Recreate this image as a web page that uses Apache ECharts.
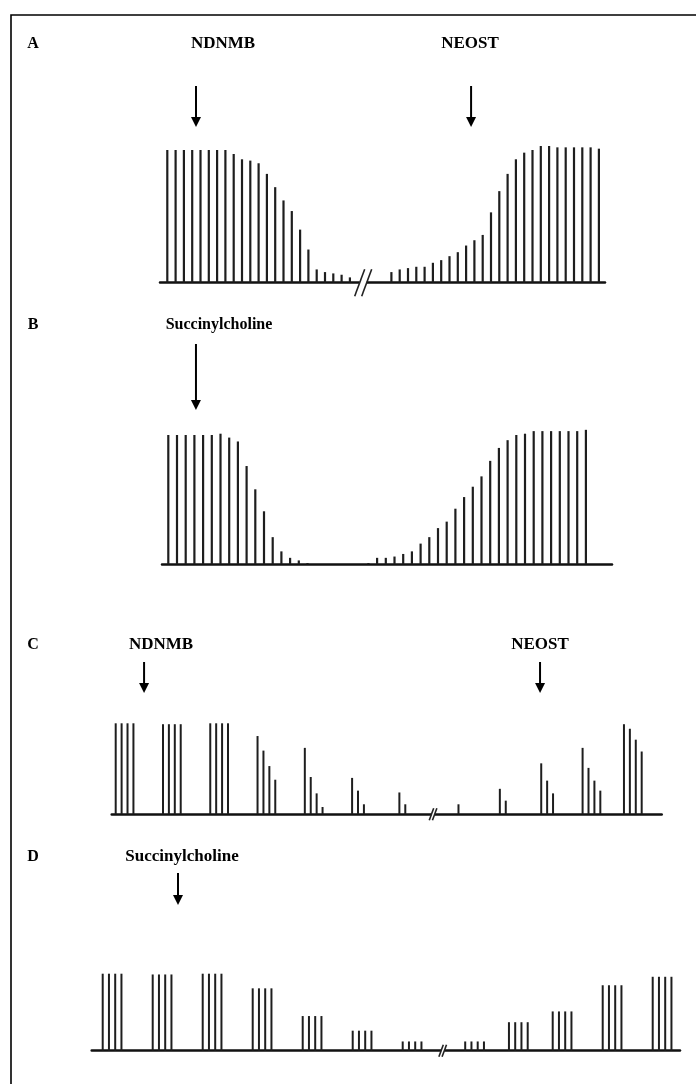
<!DOCTYPE html>
<html><head><meta charset="utf-8">
<script src="https://cdn.jsdelivr.net/npm/echarts@6/dist/echarts.min.js"></script>
<style>html,body{margin:0;padding:0;background:#fff}#c{width:696px;height:1084px}</style>
</head><body><div id="c"></div>
<script>
// ---------- DATA (twitch height, % of control) ----------
// A: single twitch, NDNMB then NEOST (break in record)
const A_before = [100,100,100,100,100,100,100,100,97,93,92,90,82,72,62,54,40,25,10,8,7,6,4];
const A_after  = [8,10,11,12,12,15,17,20,23,28,32,36,53,69,82,93,98,100,103,103,102,102,102,102,102,101];
const A_gapSlots = 4;              // stimuli omitted at the break
const A_breakAt = 23.6;            // stimulus index of the break mark
const A_events = [{name:'NDNMB', at:3.46}, {name:'NEOST', at:36.6}];

// B: single twitch, succinylcholine
const B_twitch = [100,100,100,100,100,100,101,98,95,76,58,41,21,10,5,3,1,
                  0,0,0,0,0,0,
                  1,5,5,6,8,10,16,21,28,33,43,52,60,68,80,90,96,100,101,103,103,103,103,103,103,104];
const B_events = [{name:'Succinylcholine', at:3.18}];

// C: train-of-four, NDNMB then NEOST
const C_trains = [[100,100,100,100],[99,99,99,99],[100,100,100,100],[86,70,53,38],[73,41,23,8],
                  [40,26,11,0],[24,11,0,0],[11,0,0,0],[28,15,0,0],[56,37,23,0],[73,51,37,26],[99,94,82,69]];
const C_trainStart = [0,8,16,24,32,40,48,58,65,72,79,86];
const C_breakAt = 53.7;
const C_events = [{name:'NDNMB', at:4.8}, {name:'NEOST', at:71.8}];

// D: train-of-four, succinylcholine
const D_trains = [[100,100,100,100],[99,99,99,99],[100,100,100,100],[81,81,81,81],[45,45,45,45],
                  [26,26,26,26],[12,12,12,12],[12,12,12,12],[37,37,37,37],[51,51,51,51],[85,85,85,85],[96,96,96,96]];
const D_trainStart = [0,8,16,24,32,40,48,58,65,72,80,88];
const D_breakAt = 54.4;
const D_events = [{name:'Succinylcholine', at:12.05}];

const panelLetters = ['A','B','C','D'];

// ---------- LAYOUT ----------
const YMAX = 110;
const layout = [
  {x0:160,   x1:605,   slot0:167.3, slotW:8.3,  base:282.7,  px100:132.7, letterY:44,  textY:44,  arrowTop:86,  arrowBot:127, breakH:13.5, breakOff:3.5},
  {x0:162,   x1:612,   slot0:168.3, slotW:8.7,  base:564.3,  px100:129.3, letterY:325, textY:325, arrowTop:344, arrowBot:410},
  {x0:111.7, x1:661.7, slot0:115.7, slotW:5.91, base:814.3,  px100:91,    letterY:645, textY:645, arrowTop:662, arrowBot:693, breakH:6, breakOff:1.6},
  {x0:91.7,  x1:680,   slot0:102.7, slotW:6.25, base:1050.7, px100:77,    letterY:857, textY:857, arrowTop:873, arrowBot:905, breakH:6, breakOff:1.6}
];
// label text placement (centre x) and size
const textStyle = [
  [{cx:223, size:17}, {cx:470, size:17}],
  [{cx:219, size:16}],
  [{cx:161, size:17}, {cx:540, size:17}],
  [{cx:182, size:17}]
];

function trainsToData(trains, starts) {
  const out = [];
  trains.forEach((t, k) => t.forEach((v, j) => { if (v > 0) out.push([starts[k] + j, v]); }));
  return out;
}
const dataA = A_before.map((v, i) => [i, v])
  .concat(A_after.map((v, i) => [A_before.length + A_gapSlots + i, v]));
const dataB = B_twitch.map((v, i) => [i, v]).filter(d => d[1] > 0);
const dataC = trainsToData(C_trains, C_trainStart);
const dataD = trainsToData(D_trains, D_trainStart);
const allData = [dataA, dataB, dataC, dataD];
const events = [A_events, B_events, C_events, D_events];
const breaks = [A_breakAt, null, C_breakAt, D_breakAt];

const chart = echarts.init(document.getElementById('c'), null, {renderer:'canvas'});
const option = {
  animation: false,
  backgroundColor: '#fff',
  grid: layout.map(L => ({
    left: L.x0, width: L.x1 - L.x0,
    top: L.base - L.px100 * YMAX / 100, height: L.px100 * YMAX / 100,
    outerBoundsMode: 'none', containLabel: false
  })),
  xAxis: layout.map((L, i) => ({
    type: 'value', gridIndex: i,
    min: (L.x0 - L.slot0) / L.slotW, max: (L.x1 - L.slot0) / L.slotW,
    axisLine: {show: true, onZero: false, lineStyle: {color: '#111', width: 2.5}},
    axisTick: {show: false}, axisLabel: {show: false}, splitLine: {show: false}
  })),
  yAxis: layout.map((L, i) => ({
    type: 'value', gridIndex: i, min: 0, max: YMAX, show: false, splitLine: {show: false}
  })),
  series: allData.map((d, i) => ({
    type: 'bar', xAxisIndex: i, yAxisIndex: i, data: d,
    barWidth: i < 2 ? 2.2 : 2, clip: false, silent: true,
    itemStyle: {color: '#1e1e1e'}
  }))
};
chart.setOption(option);

// ---------- annotations ----------
const g = [];
g.push({type:'rect', shape:{x:11, y:15, width:720, height:1100},
        style:{fill:'none', stroke:'#000', lineWidth:1.6}, z:10});
const font = (s) => 'bold ' + s + 'px "Liberation Serif", "Times New Roman", serif';
layout.forEach((L, i) => {
  g.push({type:'text', z:10, style:{text: panelLetters[i], x: 33, y: L.letterY, font: font(16),
          fill:'#000', align:'center', verticalAlign:'middle', textAlign:'center', textVerticalAlign:'middle'}});
  events[i].forEach((ev, k) => {
    const px = chart.convertToPixel({gridIndex: i}, [ev.at, 0])[0];
    const ts = textStyle[i][k];
    g.push({type:'text', z:10, style:{text: ev.name, x: ts.cx, y: L.textY, font: font(ts.size),
            fill:'#000', align:'center', verticalAlign:'middle', textAlign:'center', textVerticalAlign:'middle'}});
    g.push({type:'line', z:10, shape:{x1:px, y1:L.arrowTop, x2:px, y2:L.arrowBot - 6},
            style:{stroke:'#000', lineWidth:2}});
    g.push({type:'polygon', z:10, shape:{points:[[px - 5, L.arrowBot - 10], [px + 5, L.arrowBot - 10], [px, L.arrowBot]]},
            style:{fill:'#000'}});
  });
  if (breaks[i] !== null) {
    const p = chart.convertToPixel({gridIndex: i}, [breaks[i], 0]);
    const bx = p[0], by = L.base, h = L.breakH, o = L.breakOff;
    const dx = h * 0.37;
    g.push({type:'rect', z:11, shape:{x: bx - o, y: by - 2.5, width: 2 * o, height: 5}, style:{fill:'#fff'}});
    [-o, o].forEach(off => {
      g.push({type:'line', z:12, shape:{x1: bx + off - dx, y1: by + h, x2: bx + off + dx, y2: by - h},
              style:{stroke:'#222', lineWidth: 1.6}});
    });
  }
});
chart.setOption({graphic: {elements: g}});
</script>
</body></html>
